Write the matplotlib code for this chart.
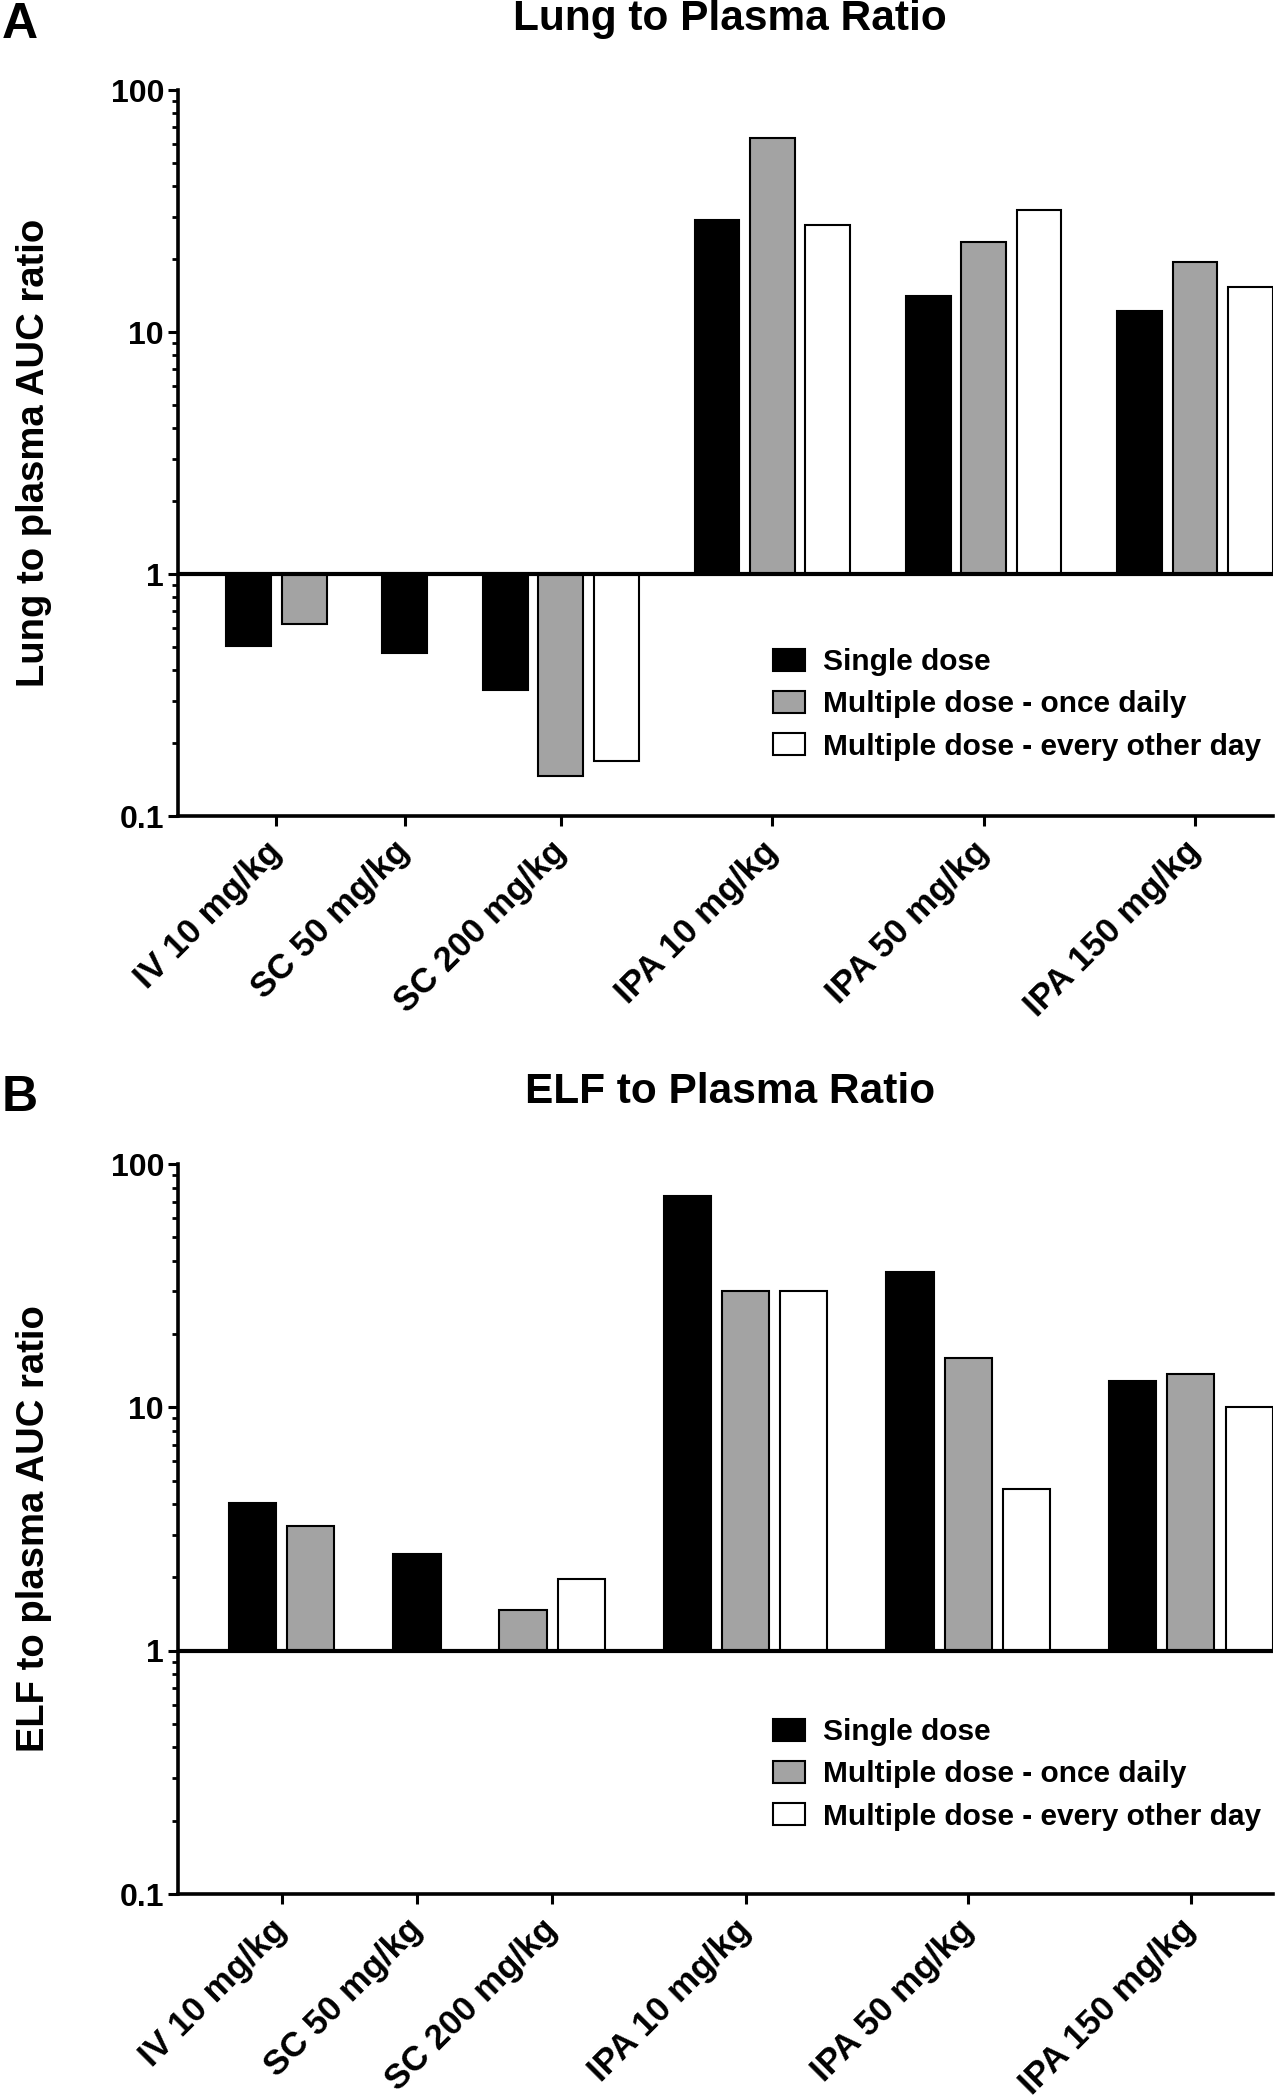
import matplotlib
matplotlib.use("Agg")
import matplotlib.pyplot as plt
from matplotlib.patches import Patch
from matplotlib.ticker import LogLocator, NullFormatter

plt.rcParams['font.family'] = ['Liberation Sans', 'DejaVu Sans']
plt.rcParams['font.weight'] = 'bold'

# data (None = no bar)
categories = ["IV 10 mg/kg", "SC 50 mg/kg", "SC 200 mg/kg",
              "IPA 10 mg/kg", "IPA 50 mg/kg", "IPA 150 mg/kg"]
series = ["Single dose", "Multiple dose - once daily",
          "Multiple dose - every other day"]
colors = ["black", "#a3a3a3", "white"]

lung_single = [0.505, 0.47, 0.332, 29.0, 14.1, 12.2]
lung_daily = [0.622, None, 0.146, 63.1, 23.6, 19.4]
lung_eod = [None, None, 0.169, 27.7, 32.0, 15.4]

elf_single = [4.05, 2.50, None, 73.8, 36.1, 12.8]
elf_daily = [3.24, None, 1.47, 30.0, 15.9, 13.7]
elf_eod = [None, None, 1.97, 30.0, 4.6, 10.0]

yticks = [0.1, 1, 10, 100]
yticklabels = ["0.1", "1", "10", "100"]

W, H = 1278, 2100
fig = plt.figure(figsize=(W / 100, H / 100), dpi=100)


def add_ax(left, top, right, bottom):
    return fig.add_axes([left / W, 1 - bottom / H, (right - left) / W, (bottom - top) / H])


def panel(ax, data, title, ylabel, letter, title_y, legend_top):
    # x positions: step 1 inside a group, bigger step between groups
    gap = 1.82
    pos = {}
    centers = []
    x = None
    for i in range(len(categories)):
        xs = []
        for s in range(len(series)):
            if data[s][i] is None:
                continue
            if x is None:
                x = 0.0
            elif not xs:
                x += gap
            else:
                x += 1
            pos[(s, i)] = x
            xs.append(x)
        centers.append(sum(xs) / len(xs))
    first, last = min(pos.values()), max(pos.values())

    for s in range(len(series)):
        xs = [pos[(s, i)] for i in range(len(categories)) if data[s][i] is not None]
        hs = [data[s][i] - 1 for i in range(len(categories)) if data[s][i] is not None]
        ax.bar(xs, hs, bottom=1, width=0.81, color=colors[s], edgecolor="black",
               linewidth=1.5, zorder=2)
    ax.axhline(1, color="black", lw=3, zorder=3)

    ax.set_yscale("log")
    ax.set_ylim(0.1, 100)
    ax.set_xlim(first - 1.28, last + 0.41)
    ax.set_yticks(yticks)
    ax.set_yticklabels(yticklabels)
    ax.yaxis.set_minor_locator(LogLocator(base=10, subs=range(2, 10)))
    ax.yaxis.set_minor_formatter(NullFormatter())
    ax.set_xticks(centers)
    ax.set_xticklabels(categories, rotation=45, ha="right", va="center",
                       rotation_mode="anchor")
    for sp in ["top", "right"]:
        ax.spines[sp].set_visible(False)
    for sp in ["left", "bottom"]:
        ax.spines[sp].set_linewidth(2.6)
    ax.tick_params(axis="both", which="major", direction="out", length=7,
                   width=2.2, labelsize=23, pad=3)
    ax.tick_params(axis="x", pad=15, labelsize=25)
    ax.tick_params(axis="y", which="minor", direction="out", length=4, width=2)
    ax.set_ylabel(ylabel, fontsize=27.5, fontweight="bold")
    ax.yaxis.set_label_coords(-0.115, 0.5)

    handles = [Patch(facecolor=colors[s], edgecolor="black", linewidth=1.5)
               for s in range(len(series))]
    ax.legend(handles, series, loc="upper left", frameon=False, fontsize=21.5,
              bbox_to_anchor=(773 / W, 1 - legend_top / H),
              bbox_transform=fig.transFigure, borderpad=0, borderaxespad=0,
              handlelength=1.07, handleheight=0.75, handletextpad=0.62,
              labelspacing=0.48)

    fig.text(730 / W, 1 - title_y / H, title, fontsize=30.5, fontweight="bold",
             ha="center", va="center")
    fig.text(2 / W, 1 - (title_y + 6) / H, letter, fontsize=36, fontweight="bold",
             ha="left", va="center")


axA = add_ax(178, 90, 1273, 816)
panel(axA, [lung_single, lung_daily, lung_eod], "Lung to Plasma Ratio",
      "Lung to plasma AUC ratio", "A", 19, 648)

axB = add_ax(178, 1164, 1273, 1894)
panel(axB, [elf_single, elf_daily, elf_eod], "ELF to Plasma Ratio",
      "ELF to plasma AUC ratio", "B", 1092, 1718)

fig.savefig("out.png", dpi=100)
